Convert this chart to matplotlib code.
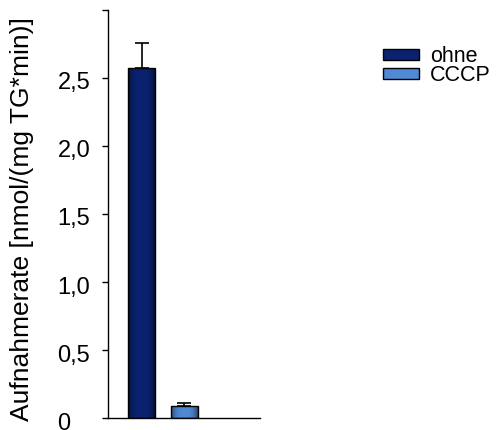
import numpy as np
import matplotlib.pyplot as plt
from matplotlib.patches import Patch
from matplotlib.transforms import ScaledTranslation

plt.rcParams['font.family'] = ['Liberation Sans', 'DejaVu Sans']

labels = ["ohne", "CCCP"]
values = [2.57, 0.09]
errors = [0.19, 0.02]
colors = ["#0a2270", "#5089d4"]

fig = plt.figure(figsize=(5.04, 4.30), dpi=100)
ax = fig.add_axes([0.214, 0.027, 0.302, 0.950])

xs = [0, 1]
bars = ax.bar(xs, values, width=0.625, color=colors, edgecolor="black", linewidth=1.0, zorder=2)

# soft horizontal shading inside each bar
shade = 1 - 0.5 * np.abs(np.linspace(-1, 1, 64)) ** 3
for b, c in zip(bars, colors):
    rgb = np.array(plt.matplotlib.colors.to_rgb(c))
    img = (rgb[None, :] * shade[:, None])[None, :, :]
    x0, y0 = b.get_x(), b.get_y()
    im = ax.imshow(img, extent=[x0, x0 + b.get_width(), y0, y0 + b.get_height()],
                   aspect="auto", zorder=2.5, interpolation="bilinear")
    im.set_clip_path(b)
    b.set_facecolor("none")
    b.set_zorder(3)

ax.errorbar(xs, values, yerr=[[0, 0], errors], fmt="none", ecolor="black",
            elinewidth=1.2, capsize=5, capthick=1.2, zorder=1)

ax.set_xlim(-0.79, 2.77)
ax.set_ylim(0, 3.0)
ax.set_yticks([0, 0.5, 1.0, 1.5, 2.0, 2.5, 3.0])
ax.set_yticklabels(["0", "0,5", "1,0", "1,5", "2,0", "2,5", ""])
ax.tick_params(axis="y", length=4.5, width=1.0, labelsize=17, pad=31.7)
# labels are left aligned in the original, and sit a little low
shift = ScaledTranslation(0, -2 / 72, fig.dpi_scale_trans)
for lbl in ax.get_yticklabels():
    lbl.set_horizontalalignment("left")
    lbl.set_transform(lbl.get_transform() + shift)
ax.set_xticks([])
ax.spines["top"].set_visible(False)
ax.spines["right"].set_visible(False)
ax.spines["left"].set_linewidth(1.0)
ax.spines["bottom"].set_linewidth(1.0)
ax.set_ylabel("Aufnahmerate [nmol/(mg TG*min)]", fontsize=19)
ax.yaxis.set_label_coords(-0.485, 0.488)

handles = [Patch(facecolor=c, edgecolor="black", label=l) for c, l in zip(colors, labels)]
fig.legend(handles=handles, loc="upper left", bbox_to_anchor=(0.738, 0.918),
           frameon=False, fontsize=15.5, handlelength=1.68, handleheight=0.45,
           handletextpad=0.5, labelspacing=-0.08, borderpad=0)

fig.savefig("out.png", dpi=100)
